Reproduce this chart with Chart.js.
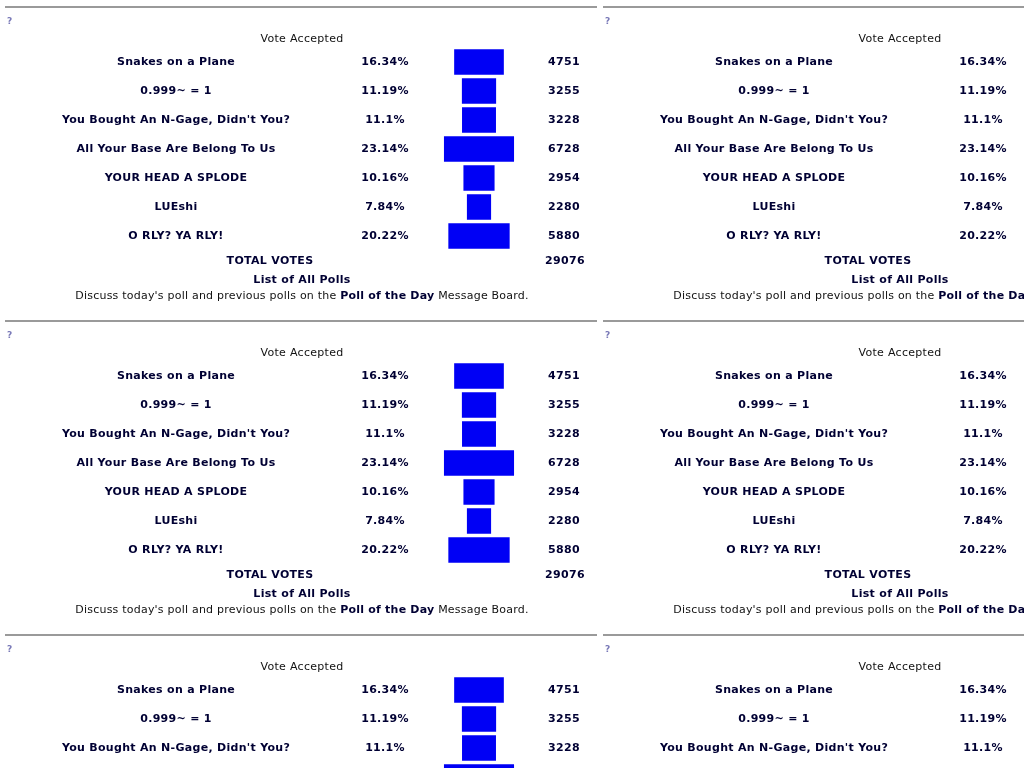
<!DOCTYPE html>
<html>
<head>
<meta charset="utf-8">
<title>Poll of the Day</title>
<script src="https://cdn.jsdelivr.net/npm/chart.js@4/dist/chart.umd.min.js"></script>
<style>
  html, body { margin: 0; padding: 0; background: #fff; overflow: hidden; width: 1024px; height: 768px; }
  .tile { position: absolute; }
</style>
</head>
<body>
<div id="page"></div>
<script>
const pollOptions = [
  'Snakes on a Plane',
  '0.999~ = 1',
  "You Bought An N-Gage, Didn't You?",
  'All Your Base Are Belong To Us',
  'YOUR HEAD A SPLODE',
  'LUEshi',
  'O RLY? YA RLY!',
];
const votePercents = [16.34, 11.19, 11.1, 23.14, 10.16, 7.84, 20.22];
const voteCounts = [4751, 3255, 3228, 6728, 2954, 2280, 5880];
const totalVotes = 29076;

const TILE_W = 598;
const TILE_H = 314;
const BAR_CENTER = 479;
const PX_PER_PERCENT = 3;
const FONT = "Verdana, 'DejaVu Sans', sans-serif";
const TEXT_COLOR = '#000033';

/**
 * centered - writes text centred on x, ignoring the trailing letter spacing
 */
function centered(ctx, text, x, y) {
  const w = ctx.measureText(text).width;
  ctx.textAlign = 'left';
  ctx.fillText(text, x - w / 2, y);
}

/**
 * pollText - draws the header, columns and footer of one poll box
 */
const pollTextPlugin = {
  id: 'pollText',
  afterDraw(chart) {
    const { ctx } = chart;
    const yScale = chart.scales.y;
    ctx.save();

    // separator line and the little "?"
    ctx.strokeStyle = '#9a9a9a';
    ctx.lineWidth = 2;
    ctx.beginPath();
    ctx.moveTo(5, 7);
    ctx.lineTo(597, 7);
    ctx.stroke();

    ctx.textBaseline = 'middle';
    ctx.letterSpacing = '0.3px';
    ctx.fillStyle = '#7a7ab8';
    ctx.font = `bold 9px ${FONT}`;
    ctx.textAlign = 'left';
    ctx.fillText('?', 7, 22);

    ctx.fillStyle = '#111';
    ctx.font = `11px ${FONT}`;
    centered(ctx, 'Vote Accepted', 302, 39);

    ctx.fillStyle = TEXT_COLOR;
    ctx.font = `bold 11px ${FONT}`;
    pollOptions.forEach((name, i) => {
      const y = yScale.getPixelForValue(i);
      centered(ctx, name, 176, y);
      centered(ctx, `${votePercents[i]}%`, 385, y);
      centered(ctx, String(voteCounts[i]), 564, y);
    });

    centered(ctx, 'TOTAL VOTES', 270, 261);
    centered(ctx, String(totalVotes), 565, 261);
    centered(ctx, 'List of All Polls', 302, 280);

    // mixed weight footer line
    ctx.letterSpacing = '0.22px';
    const parts = [
      ['normal', "Discuss today's poll and previous polls on the "],
      ['bold', 'Poll of the Day'],
      ['normal', ' Message Board.'],
    ];
    let total = 0;
    parts.forEach((p) => {
      ctx.font = `${p[0]} 11px ${FONT}`;
      total += ctx.measureText(p[1]).width;
    });
    let x = 302 - total / 2;
    ctx.textAlign = 'left';
    parts.forEach((p) => {
      ctx.font = `${p[0]} 11px ${FONT}`;
      ctx.fillStyle = p[0] === 'bold' ? TEXT_COLOR : '#111';
      ctx.fillText(p[1], x, 296);
      x += ctx.measureText(p[1]).width;
    });

    ctx.restore();
  },
};

/**
 * makePollTile - builds one poll box with a centred bar chart
 * @param {number} left - page x of the tile
 * @param {number} top - page y of the tile
 */
function makePollTile(left, top) {
  const canvas = document.createElement('canvas');
  canvas.className = 'tile';
  canvas.width = TILE_W;
  canvas.height = TILE_H;
  canvas.style.left = `${left}px`;
  canvas.style.top = `${top}px`;
  canvas.style.width = `${TILE_W}px`;
  canvas.style.height = `${TILE_H}px`;
  document.getElementById('page').appendChild(canvas);

  new Chart(canvas.getContext('2d'), {
    type: 'bar',
    data: {
      labels: pollOptions,
      datasets: [{
        data: votePercents.map((p) => [-p / 2, p / 2]),
        backgroundColor: '#0000f5',
        borderWidth: 0,
        barThickness: 25,
      }],
    },
    options: {
      indexAxis: 'y',
      responsive: false,
      animation: false,
      devicePixelRatio: 1,
      layout: {
        padding: { top: 47.5, bottom: 63.5, left: 0, right: 0 },
      },
      plugins: {
        legend: { display: false },
        tooltip: { enabled: false },
      },
      scales: {
        x: {
          display: false,
          min: -BAR_CENTER / PX_PER_PERCENT,
          max: (TILE_W - BAR_CENTER) / PX_PER_PERCENT,
        },
        y: {
          display: false,
          offset: true,
        },
      },
    },
    plugins: [pollTextPlugin],
  });
}

for (let row = 0; row < 3; row += 1) {
  for (let col = 0; col < 2; col += 1) {
    makePollTile(col * TILE_W, row * TILE_H);
  }
}
</script>
</body>
</html>
